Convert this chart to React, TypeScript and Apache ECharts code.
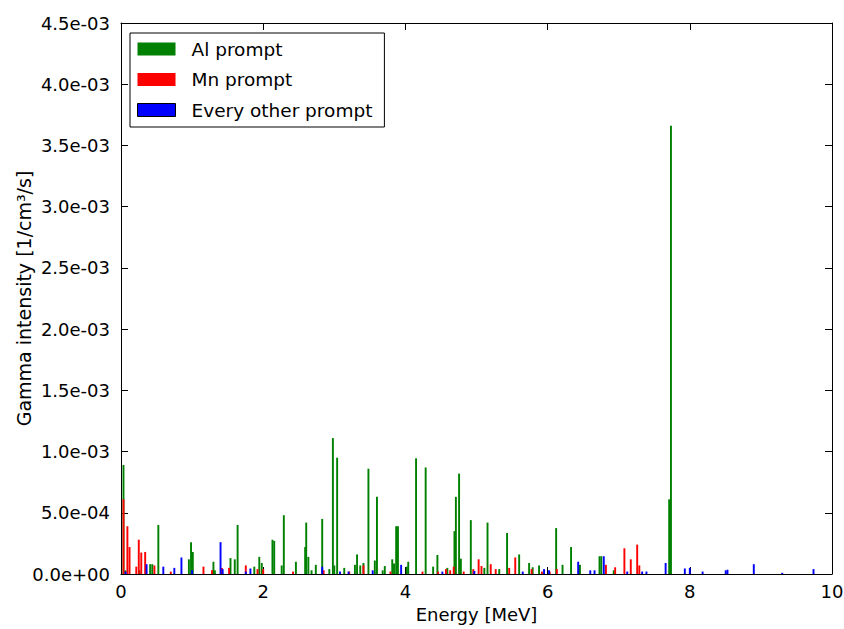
import React, { useEffect, useRef } from "react";
import * as echarts from "echarts";

// Gamma line energies [MeV] and intensities [1/cm^3/s] per source group
const alEnergy = [
  0.035, 0.06, 0.26, 0.41, 0.44, 0.525, 0.955, 0.985, 1.01, 1.3, 1.32, 1.54, 1.6, 1.64,
  1.875, 1.945, 1.98, 2.13, 2.155, 2.26, 2.29, 2.46, 2.59, 2.605, 2.635, 2.68, 2.74, 2.83,
  2.93, 2.98, 3.0, 3.04, 3.14, 3.29, 3.32, 3.365, 3.41, 3.48, 3.57, 3.6, 3.68, 3.71, 3.815,
  3.84, 3.87, 3.895, 4.02, 4.04, 4.15, 4.285, 4.39, 4.45, 4.59, 4.69, 4.71, 4.755, 4.78,
  4.92, 5.11, 5.155, 5.32, 5.43, 5.6, 5.74, 5.79, 5.88, 6.12, 6.21, 6.33, 6.455, 6.73,
  6.755, 6.93, 7.71, 7.735,
];
const alIntensity = [
  8.9e-4, 3e-5, 3e-5, 8e-5, 8e-5, 4.0e-4, 1.2e-4, 2.6e-4, 1.8e-4, 1.0e-4, 3e-5, 1.3e-4,
  1.2e-4, 4.0e-4, 6e-5, 1.4e-4, 9e-5, 2.8e-4, 2.7e-4, 7e-5, 4.8e-4, 1.0e-4, 2.2e-4,
  4.2e-4, 1.4e-4, 3e-5, 7.5e-5, 4.5e-4, 4e-5, 1.11e-3, 7e-5, 9.5e-4, 5e-5, 7.5e-5,
  1.6e-4, 7e-5, 9e-5, 8.6e-4, 1.1e-4, 6.3e-4, 3e-5, 6.5e-5, 1.2e-4, 8.5e-5, 3.9e-4,
  3.9e-4, 6e-5, 1.0e-4, 9.45e-4, 8.7e-4, 6e-5, 1.55e-4, 5e-5, 3.5e-4, 6.3e-4, 8.2e-4,
  1.25e-4, 4.4e-4, 5e-5, 4.2e-4, 4e-5, 3.35e-4, 1.6e-4, 9e-5, 5.5e-5, 7e-5, 3.75e-4,
  7.5e-5, 2.2e-4, 7.5e-5, 1.45e-4, 1.45e-4, 3e-5, 6.1e-4, 3.66e-3,
];

const mnEnergy = [
  0.035, 0.09, 0.12, 0.215, 0.25, 0.285, 0.34, 0.47, 0.7, 1.16, 1.28, 1.42, 1.52, 1.755,
  1.92, 2.0, 2.42, 2.85, 3.21, 3.41, 3.79, 4.24, 4.46, 4.57, 4.63, 4.68, 4.82, 4.955, 5.03,
  5.07, 5.2, 5.27, 5.46, 5.545, 5.775, 5.92, 6.03, 6.13, 6.82, 6.95, 7.08, 7.17, 7.26, 7.29,
];
const mnIntensity = [
  6.1e-4, 3.9e-4, 2.2e-4, 6e-5, 2.8e-4, 1.75e-4, 1.8e-4, 7e-5, 2e-5, 6e-5, 3e-5, 5e-5,
  5e-5, 7e-5, 4e-5, 4e-5, 2e-5, 3e-5, 2e-5, 7e-5, 2e-5, 2e-5, 2e-5, 4e-5, 3e-5, 6e-5,
  2e-5, 4e-5, 1.2e-4, 6.5e-5, 8e-5, 4e-5, 5e-5, 1.35e-4, 4e-5, 2e-5, 2e-5, 4e-5, 7.5e-5,
  5.5e-5, 2.1e-4, 1.2e-4, 2.4e-4, 7e-5,
];

const otherEnergy = [
  0.065, 0.36, 0.595, 0.75, 0.85, 1.0, 1.4, 1.43, 1.755, 1.82, 2.83, 3.08, 3.2, 3.54, 3.94,
  4.52, 4.97, 5.65, 5.95, 6.02, 6.43, 6.6, 6.66, 6.79, 7.12, 7.33, 7.39, 7.66, 7.93, 8.0,
  8.18, 8.505, 8.53, 8.9, 9.3, 9.74,
];
const otherIntensity = [
  2e-5, 8e-5, 6e-5, 5e-5, 1.35e-4, 3e-5, 2.6e-4, 4e-5, 2e-5, 4.5e-5, 6e-5, 2e-5, 2e-5,
  3e-5, 7.5e-5, 2e-5, 2.5e-5, 2e-5, 4e-5, 3e-5, 1.0e-4, 3e-5, 3e-5, 1.45e-4, 2e-5, 2e-5,
  2e-5, 9e-5, 4.5e-5, 5e-5, 2e-5, 3e-5, 3.5e-5, 8e-5, 1e-5, 4e-5,
];

const xTicks = { min: 0, max: 10, interval: 2 };
const yTicks = { min: 0, max: 0.0045, interval: 0.0005 };

const BIN_WIDTH = 0.027; // MeV
const FONT = "'DejaVu Sans', sans-serif";

const sci = (v: number) => {
  if (Math.abs(v) < 1e-12) return "0.0e+00";
  const [m, e] = v.toExponential(1).split("e");
  const n = parseInt(e, 10);
  return `${m}e${n < 0 ? "-" : "+"}${String(Math.abs(n)).padStart(2, "0")}`;
};

const pairs = (xs: number[], ys: number[]) => xs.map((x, i) => [x, ys[i]]);

const lineSeries = (name: string, color: string, data: number[][]) => ({
  name,
  type: "custom",
  xAxisIndex: 0,
  yAxisIndex: 0,
  clip: true,
  itemStyle: { color },
  data,
  renderItem: (_params: any, api: any) => {
    const x = api.value(0);
    const y = api.value(1);
    const p0 = api.coord([x - BIN_WIDTH / 2, y]);
    const p1 = api.coord([x + BIN_WIDTH / 2, 0]);
    return {
      type: "rect",
      shape: { x: p0[0], y: p0[1], width: p1[0] - p0[0], height: p1[1] - p0[1] },
      style: { fill: color },
    };
  },
});

export default function App() {
  const ref = useRef<HTMLDivElement>(null);

  useEffect(() => {
    if (!ref.current) return;
    const chart = echarts.init(ref.current, undefined, { renderer: "svg" });

    const tickStyle = { show: true, inside: true, length: 7, lineStyle: { color: "#000", width: 1 } };
    const axisLine = { show: true, onZero: false, lineStyle: { color: "#000", width: 1 } };

    chart.setOption({
      animation: false,
      backgroundColor: "#fff",
      grid: { left: 121, right: 12, top: 23, bottom: 55, containLabel: false, outerBoundsMode: "none" },
      legend: {
        orient: "vertical",
        left: 130,
        top: 33,
        backgroundColor: "#fff",
        borderColor: "#000",
        borderWidth: 1,
        borderRadius: 0,
        padding: [6, 12, 7, 7],
        itemWidth: 38,
        itemHeight: 13,
        itemGap: 10.5,
        icon: "rect",
        textStyle: { fontFamily: FONT, fontSize: 18.5, color: "#000", lineHeight: 20, padding: [0, 0, 0, 11] },
        data: [
          { name: "Al prompt" },
          { name: "Mn prompt" },
          { name: "Every other prompt", itemStyle: { borderColor: "#000", borderWidth: 1 } },
        ],
      },
      xAxis: [
        {
          type: "value",
          position: "bottom",
          ...xTicks,
          name: "Energy [MeV]",
          nameLocation: "middle",
          nameGap: 31,
          nameMoveOverlap: false,
          nameTextStyle: { fontFamily: FONT, fontSize: 18, color: "#000" },
          axisLine,
          axisTick: tickStyle,
          axisLabel: { fontFamily: FONT, fontSize: 18, color: "#000", margin: 8 },
          splitLine: { show: false },
        },
        {
          type: "value",
          position: "top",
          ...xTicks,
          axisLine,
          axisTick: tickStyle,
          axisLabel: { show: false },
          splitLine: { show: false },
        },
      ],
      yAxis: [
        {
          type: "value",
          position: "left",
          ...yTicks,
          name: "Gamma intensity [1/cm³/s]",
          nameLocation: "middle",
          nameRotate: 90,
          nameGap: 88,
          nameMoveOverlap: false,
          nameTextStyle: { fontFamily: FONT, fontSize: 19, color: "#000" },
          axisLine,
          axisTick: tickStyle,
          axisLabel: { fontFamily: FONT, fontSize: 18, color: "#000", margin: 11, formatter: sci },
          splitLine: { show: false },
        },
        {
          type: "value",
          position: "right",
          ...yTicks,
          axisLine,
          axisTick: tickStyle,
          axisLabel: { show: false },
          splitLine: { show: false },
        },
      ],
      series: [
        lineSeries("Al prompt", "#008000", pairs(alEnergy, alIntensity)),
        lineSeries("Mn prompt", "#ff0000", pairs(mnEnergy, mnIntensity)),
        lineSeries("Every other prompt", "#0000ff", pairs(otherEnergy, otherIntensity)),
      ],
    });

    return () => chart.dispose();
  }, []);

  return (
    <div
      ref={ref}
      style={{ position: "fixed", left: 0, top: 0, width: 844, height: 629, background: "#fff" }}
    />
  );
}
